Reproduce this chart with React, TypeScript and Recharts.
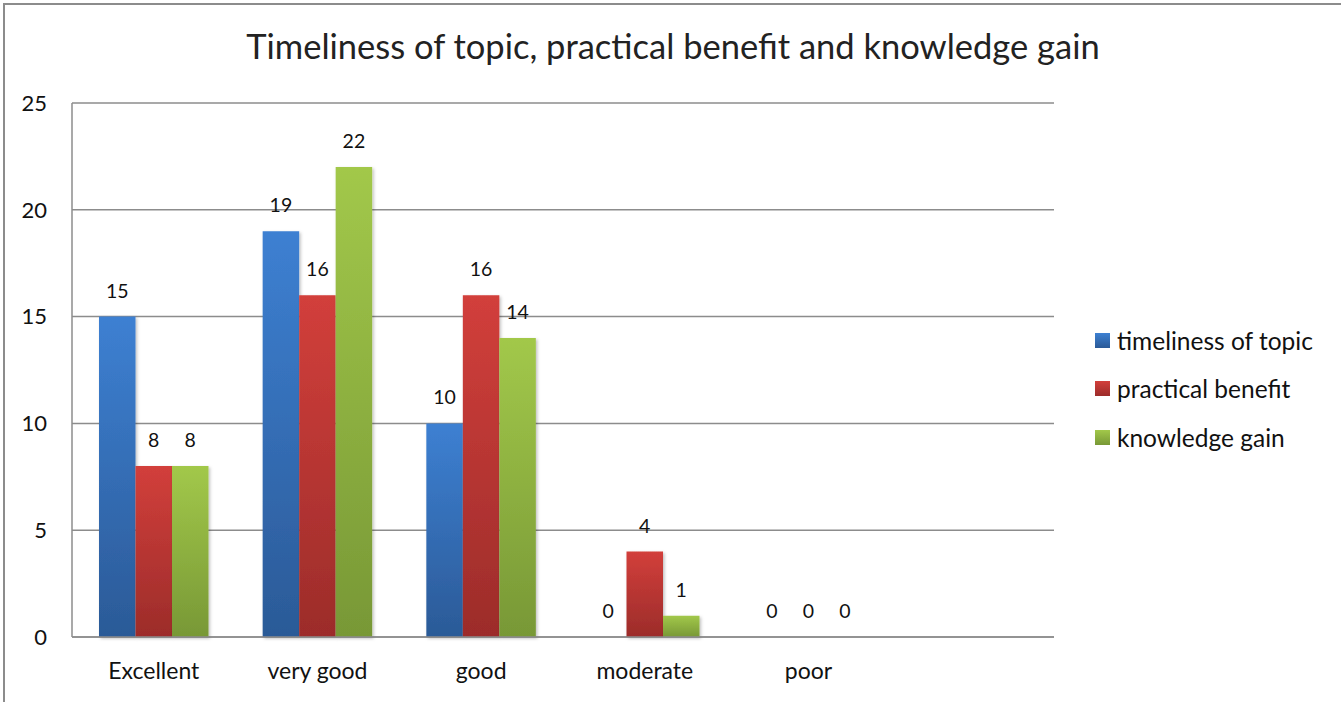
import React from "react"
import { Bar, BarChart, CartesianGrid, LabelList, Rectangle, XAxis, YAxis } from "recharts"

const categories = ["Excellent", "very good", "good", "moderate", "poor", ""]
const timeliness = [15, 19, 10, 0, 0, null]
const practical = [8, 16, 16, 4, 0, null]
const knowledge = [8, 22, 14, 1, 0, null]
const yTicks = [0, 5, 10, 15, 20, 25]

const series = [
  { key: "timeliness", name: "timeliness of topic", grad: "gBlue", top: "#3d80d2", bottom: "#2b5a97" },
  { key: "practical", name: "practical benefit", grad: "gRed", top: "#d23f3b", bottom: "#9c2c2a" },
  { key: "knowledge", name: "knowledge gain", grad: "gGreen", top: "#a2c84a", bottom: "#789836" },
]

const data = categories.map((name, i) => ({
  name,
  timeliness: timeliness[i],
  practical: practical[i],
  knowledge: knowledge[i],
}))

const font = "Lato, 'Open Sans', sans-serif"

function renderLabel(props: any) {
  const { x, y, width, value } = props
  if (value === null || value === undefined) return null
  return (
    <text x={x + width / 2} y={y - 19} textAnchor="middle" fontSize={19.5} fontFamily={font} fill="#111">
      {value}
    </text>
  )
}

// zero values keep their label but draw no visible bar
function renderBar(props: any) {
  if (!props.value || props.height < 1) return <g />
  return <Rectangle {...props} />
}

export default function App() {
  return (
    <div style={{ position: "absolute", left: 0, top: 0, width: 1341, height: 702, background: "#fff" }}>
      <div
        style={{
          position: "absolute",
          left: 3,
          top: 3,
          right: 0,
          bottom: 0,
          borderTop: "2px solid #8c8c8c",
          borderLeft: "2px solid #8c8c8c",
        }}
      />
      <div
        style={{
          position: "absolute",
          left: 0,
          width: 1346,
          top: 24,
          textAlign: "center",
          fontFamily: font,
          fontSize: 34.5,
          lineHeight: "44px",
          color: "#222",
        }}
      >
        Timeliness of topic, practical benefit and knowledge gain
      </div>
      <BarChart
        width={1341}
        height={702}
        data={data}
        margin={{ top: 103, right: 287, left: 0, bottom: 0 }}
        barGap={0}
        style={{ position: "absolute", left: 0, top: 0 }}
      >
        <defs>
          {series.map((s) => (
            <linearGradient key={s.grad} id={s.grad} x1="0" y1="0" x2="0" y2="1">
              <stop offset="0%" stopColor={s.top} />
              <stop offset="100%" stopColor={s.bottom} />
            </linearGradient>
          ))}
          <filter id="shadow" x="-10%" y="-10%" width="130%" height="130%">
            <feDropShadow dx="1.5" dy="1.5" stdDeviation="1.5" floodColor="#000" floodOpacity="0.25" />
          </filter>
        </defs>
        <CartesianGrid vertical={false} stroke="#8c8c8c" strokeWidth={1.5} />
        <XAxis
          dataKey="name"
          height={65}
          tickLine={false}
          tickSize={0}
          tickMargin={26}
          axisLine={{ stroke: "#8c8c8c", strokeWidth: 1.5 }}
          tick={{ fontSize: 23, fontFamily: font, fill: "#111" }}
          interval={0}
        />
        <YAxis
          width={72}
          domain={[0, 25]}
          ticks={yTicks}
          tickLine={false}
          tickSize={0}
          tickMargin={25}
          axisLine={{ stroke: "#8c8c8c", strokeWidth: 1.5 }}
          tick={{ fontSize: 22, fontFamily: font, fill: "#111" }}
        />
        {series.map((s) => (
          <Bar
            key={s.key}
            dataKey={s.key}
            name={s.name}
            fill={`url(#${s.grad})`}
            barSize={36.5}
            minPointSize={(v: any) => (v === 0 ? 0.01 : 0)}
            shape={renderBar}
            filter="url(#shadow)"
            isAnimationActive={false}
          >
            <LabelList dataKey={s.key} content={renderLabel} />
          </Bar>
        ))}
      </BarChart>
      <div
        style={{
          position: "absolute",
          left: 1095,
          top: 316,
          fontFamily: font,
          fontSize: 24.5,
          color: "#111",
        }}
      >
        {series.map((s) => (
          <div key={s.key} style={{ display: "flex", alignItems: "center", height: 48.5 }}>
            <span
              style={{
                display: "inline-block",
                width: 15,
                height: 15,
                marginRight: 7,
                background: `linear-gradient(${s.top}, ${s.bottom})`,
              }}
            />
            {s.name}
          </div>
        ))}
      </div>
    </div>
  )
}
